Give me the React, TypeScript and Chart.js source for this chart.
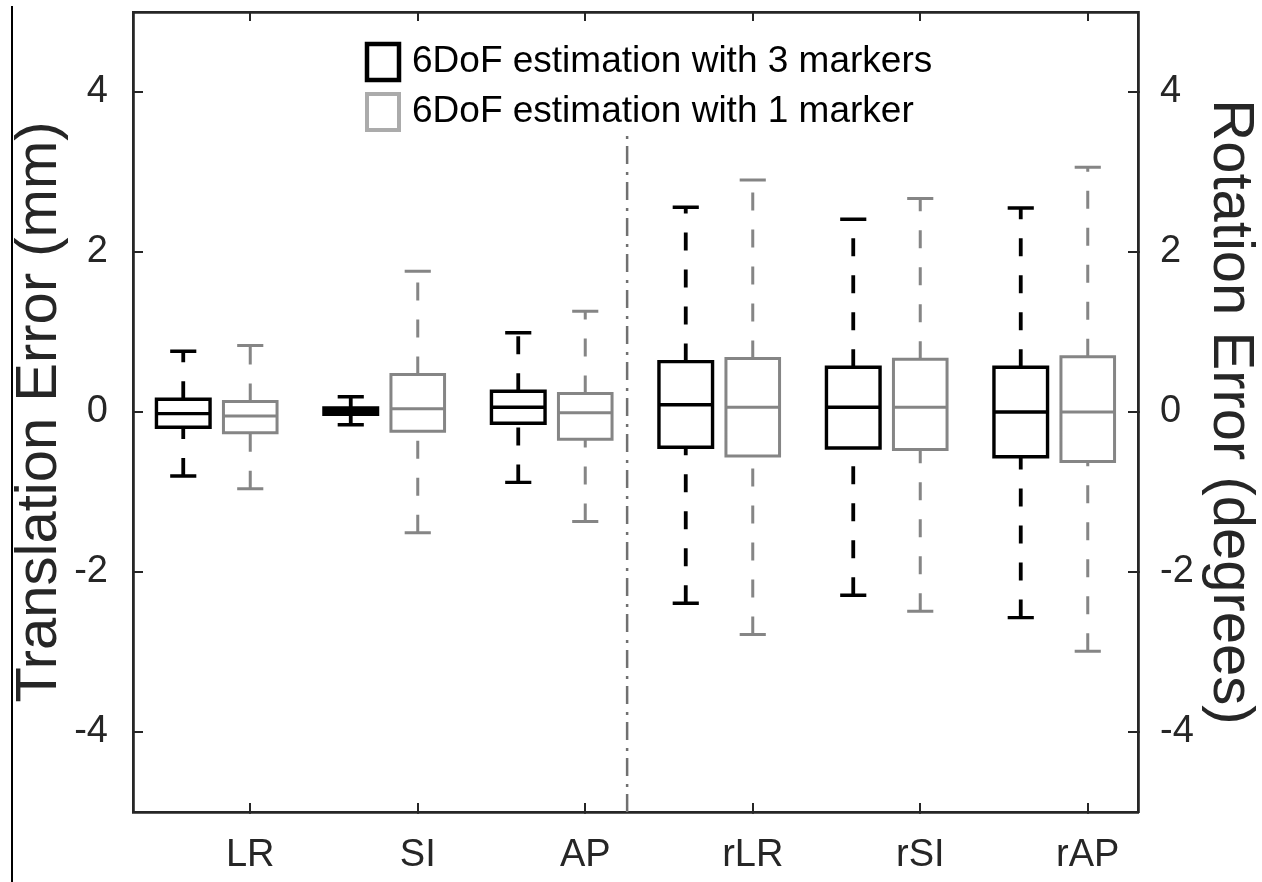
import { useEffect, useRef } from 'react';
import { Chart, registerables } from 'chart.js';

Chart.register(...registerables);

// ---- data ----------------------------------------------------------------
const categories = ['LR', 'SI', 'AP', 'rLR', 'rSI', 'rAP'];
const seriesLabels = ['6DoF estimation with 3 markers', '6DoF estimation with 1 marker'];

// Box-plot summaries, estimation with 3 markers
const threeLower = [-0.8, -0.16, -0.88, -2.39, -2.29, -2.57];
const threeQ1 = [-0.19, -0.03, -0.14, -0.44, -0.45, -0.56];
const threeMedian = [-0.02, 0.01, 0.06, 0.09, 0.06, 0.0];
const threeQ3 = [0.16, 0.05, 0.26, 0.63, 0.56, 0.56];
const threeUpper = [0.76, 0.19, 0.99, 2.56, 2.41, 2.55];

// Box-plot summaries, estimation with 1 marker
const oneLower = [-0.96, -1.51, -1.37, -2.78, -2.49, -2.99];
const oneQ1 = [-0.26, -0.24, -0.34, -0.55, -0.47, -0.62];
const oneMedian = [-0.05, 0.04, -0.01, 0.06, 0.06, 0.0];
const oneQ3 = [0.13, 0.47, 0.23, 0.67, 0.66, 0.69];
const oneUpper = [0.83, 1.76, 1.26, 2.9, 2.67, 3.06];

const yTickValues = [-4, -2, 0, 2, 4];
const leftAxisTitle = 'Translation Error (mm)';
const rightAxisTitle = 'Rotation Error (degrees)';

// ---- layout constants ----------------------------------------------------
const X_MIN = 0.3;
const X_MAX = 6.3;
const Y_MIN = -5;
const Y_MAX = 5;
const SERIES_SHIFT = [-0.4, 0]; // group offset of each series from its category tick
const BOX_HALF = 0.16;
const CAP_HALF = 0.078;
const DIVIDER_X = 3.25; // separates translation from rotation groups
const DIVIDER_TOP = 3.46;

const INK = '#262626';
const SERIES_COLOR = ['#000000', '#858585'];
const LEGEND_COLOR = ['#000000', '#ababab'];
const SERIES_WIDTH = [3.4, 3];

type P = { x: number; y: number | null };
const gap = (x: number): P => ({ x, y: null });

// Box outline, median bar and whisker caps as one broken polyline
function boxParts(lo: number[], q1: number[], med: number[], q3: number[], hi: number[], shift: number): P[] {
  const pts: P[] = [];
  categories.forEach((_, i) => {
    const c = i + 1 + shift;
    const l = c - BOX_HALF;
    const r = c + BOX_HALF;
    pts.push(
      { x: l, y: q1[i] }, { x: l, y: q3[i] }, { x: r, y: q3[i] }, { x: r, y: q1[i] },
      { x: l, y: q1[i] }, { x: l, y: q3[i] }, gap(c),
      { x: l, y: med[i] }, { x: r, y: med[i] }, gap(c),
      { x: c - CAP_HALF, y: lo[i] }, { x: c + CAP_HALF, y: lo[i] }, gap(c),
      { x: c - CAP_HALF, y: hi[i] }, { x: c + CAP_HALF, y: hi[i] }, gap(c)
    );
  });
  return pts;
}

// Whisker stems, each drawn upward so the dash pattern starts at its lower end
function whiskerParts(lo: number[], q1: number[], q3: number[], hi: number[], shift: number): P[] {
  const pts: P[] = [];
  categories.forEach((_, i) => {
    const c = i + 1 + shift;
    pts.push({ x: c, y: lo[i] }, { x: c, y: q1[i] }, gap(c), { x: c, y: q3[i] }, { x: c, y: hi[i] }, gap(c));
  });
  return pts;
}

const lineDefaults = {
  showLine: true,
  pointRadius: 0,
  pointHoverRadius: 0,
  fill: false,
  spanGaps: false,
  tension: 0,
  borderJoinStyle: 'miter' as const,
  borderCapStyle: 'butt' as const,
};

// Legend drawn inside the plot area, like an in-axes legend
const boxLegend = {
  id: 'boxLegend',
  afterDraw(chart: any) {
    const { ctx, chartArea } = chart;
    ctx.save();
    seriesLabels.forEach((label, i) => {
      const bx = chartArea.left + 234;
      const by = chartArea.top + 32 + i * 50;
      ctx.lineWidth = i === 0 ? 4.5 : 4;
      ctx.strokeStyle = LEGEND_COLOR[i];
      ctx.strokeRect(bx, by, 32, 36);
      ctx.fillStyle = '#000';
      ctx.font = '37px "Liberation Sans", Arial, sans-serif';
      ctx.textAlign = 'left';
      ctx.textBaseline = 'middle';
      ctx.fillText(label, bx + 45, by + 18);
    });
    ctx.restore();
  },
};

function fixedTicks(values: number[]) {
  return (scale: any) => {
    scale.ticks = values.map((value) => ({ value }));
  };
}

export default function App() {
  const ref = useRef<HTMLCanvasElement | null>(null);

  useEffect(() => {
    if (!ref.current) return;
    const categoryTicks = categories.map((_, i) => i + 1);
    const tickFont = { family: '"Liberation Sans", Arial, sans-serif', size: 38 };
    const titleFont = { family: '"Liberation Sans", Arial, sans-serif', size: 58 };

    const chart = new Chart(ref.current, {
      type: 'scatter',
      data: {
        datasets: [
          {
            ...lineDefaults,
            label: 'divider',
            data: [{ x: DIVIDER_X, y: Y_MIN }, { x: DIVIDER_X, y: DIVIDER_TOP }],
            borderColor: '#707070',
            borderWidth: 2.5,
            borderDash: [18, 7, 3, 8],
          },
          {
            ...lineDefaults,
            label: seriesLabels[0],
            data: boxParts(threeLower, threeQ1, threeMedian, threeQ3, threeUpper, SERIES_SHIFT[0]),
            borderColor: SERIES_COLOR[0],
            borderWidth: SERIES_WIDTH[0],
          },
          {
            ...lineDefaults,
            label: seriesLabels[0] + ' whiskers',
            data: whiskerParts(threeLower, threeQ1, threeQ3, threeUpper, SERIES_SHIFT[0]),
            borderColor: SERIES_COLOR[0],
            borderWidth: SERIES_WIDTH[0] + 0.4,
            borderDash: [18, 19],
          },
          {
            ...lineDefaults,
            label: seriesLabels[1],
            data: boxParts(oneLower, oneQ1, oneMedian, oneQ3, oneUpper, SERIES_SHIFT[1]),
            borderColor: SERIES_COLOR[1],
            borderWidth: SERIES_WIDTH[1],
          },
          {
            ...lineDefaults,
            label: seriesLabels[1] + ' whiskers',
            data: whiskerParts(oneLower, oneQ1, oneQ3, oneUpper, SERIES_SHIFT[1]),
            borderColor: SERIES_COLOR[1],
            borderWidth: SERIES_WIDTH[1],
            borderDash: [18, 19],
          },
        ],
      },
      options: {
        animation: false,
        responsive: false,
        devicePixelRatio: 1,
        events: [],
        layout: { padding: 0 },
        plugins: {
          legend: { display: false },
          tooltip: { enabled: false },
        },
        scales: {
          x: {
            type: 'linear',
            position: 'bottom',
            min: X_MIN,
            max: X_MAX,
            afterBuildTicks: fixedTicks(categoryTicks),
            afterFit: (s: any) => {
              s.height = 70;
              s.paddingLeft = 0;
              s.paddingRight = 0;
            },
            grid: { drawOnChartArea: false, drawTicks: true, tickLength: -9, color: INK, lineWidth: 2 },
            border: { display: true, color: INK, width: 2.8 },
            ticks: {
              autoSkip: false,
              maxRotation: 0,
              padding: 30,
              color: INK,
              font: tickFont,
              callback: (v: any) => categories[Math.round(Number(v)) - 1] ?? '',
            },
          },
          x2: {
            type: 'linear',
            position: 'top',
            min: X_MIN,
            max: X_MAX,
            afterBuildTicks: fixedTicks(categoryTicks),
            afterFit: (s: any) => {
              s.height = 12;
              s.paddingLeft = 0;
              s.paddingRight = 0;
            },
            grid: { drawOnChartArea: false, drawTicks: true, tickLength: -9, color: INK, lineWidth: 2 },
            border: { display: true, color: INK, width: 2.8 },
            ticks: { display: false },
          },
          y: {
            type: 'linear',
            position: 'left',
            min: Y_MIN,
            max: Y_MAX,
            afterBuildTicks: fixedTicks(yTickValues),
            afterFit: (s: any) => {
              s.width = 133;
              s.paddingTop = 0;
              s.paddingBottom = 0;
            },
            grid: { drawOnChartArea: false, drawTicks: true, tickLength: -10, color: INK, lineWidth: 2 },
            border: { display: true, color: INK, width: 2.8 },
            ticks: { padding: 35, color: INK, font: tickFont, callback: (v: any) => String(v) },
            title: {
              display: true,
              text: leftAxisTitle,
              color: INK,
              font: titleFont,
              padding: { top: 5.2, bottom: 0 },
            },
          },
          y2: {
            type: 'linear',
            position: 'right',
            min: Y_MIN,
            max: Y_MAX,
            afterBuildTicks: fixedTicks(yTickValues),
            afterFit: (s: any) => {
              s.width = 124;
              s.paddingTop = 0;
              s.paddingBottom = 0;
            },
            grid: { drawOnChartArea: false, drawTicks: true, tickLength: -10, color: INK, lineWidth: 2 },
            border: { display: true, color: INK, width: 2.8 },
            ticks: { padding: 32, color: INK, font: tickFont, callback: (v: any) => String(v) },
            title: {
              display: true,
              text: rightAxisTitle,
              color: INK,
              font: titleFont,
              padding: { top: -2.8, bottom: 0 },
            },
          },
        },
      },
      plugins: [boxLegend],
    } as any);

    return () => chart.destroy();
  }, []);

  return (
    <div style={{ position: 'fixed', left: 0, top: 0, width: 1262, height: 882, background: '#fff' }}>
      <div style={{ position: 'absolute', left: 11, top: 6, width: 2, height: 876, background: '#000' }} />
      <canvas
        ref={ref}
        width={1262}
        height={882}
        style={{ position: 'absolute', left: 0, top: 0, width: 1262, height: 882, display: 'block' }}
      />
    </div>
  );
}
